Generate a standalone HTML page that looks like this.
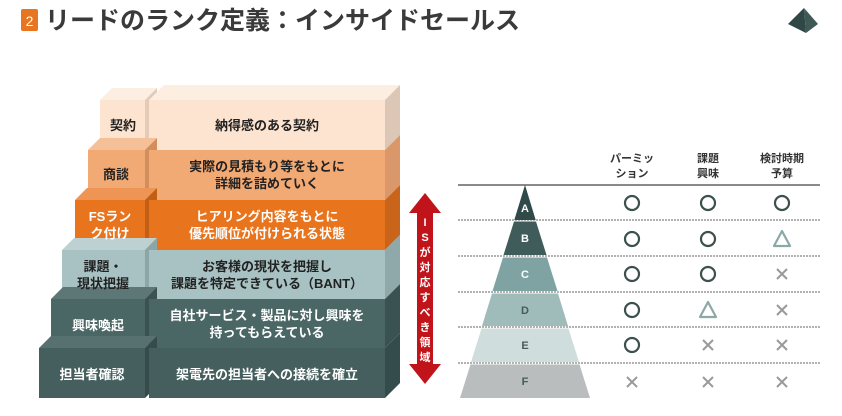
<!DOCTYPE html>
<html><head><meta charset="utf-8"><style>
html,body{margin:0;padding:0;background:#fff;}
svg{display:block;font-family:"Liberation Sans","Noto Sans CJK JP",sans-serif;}
</style></head><body>
<svg width="842" height="416" viewBox="0 0 842 416" xmlns="http://www.w3.org/2000/svg">
<!-- header -->
<rect x="21" y="9" width="17" height="22" rx="2" fill="#e8751f"/>
<text x="29.5" y="26" font-size="14" fill="#fff" text-anchor="middle">2</text>
<text x="45" y="29" font-size="25" font-weight="bold" fill="#3a3a3a">リードのランク定義：インサイドセールス</text>
<polygon points="804,8 788,24 806,33" fill="#2f4745"/>
<polygon points="804,8 818,24 806,33" fill="#3f5957"/>

<g id="rows">
<polygon points="100,100 145,100 157,88 112,88" fill="#fdeee2"/>
<polygon points="145,100 157,88 157,138 145,150" fill="#e3cbb8"/>
<rect x="100" y="100" width="45" height="50" fill="#fce4d0"/>
<polygon points="149,100 385,100 400,85 164,85" fill="#fdeee2"/>
<polygon points="385,100 400,85 400,135 385,150" fill="#dcc6b5"/>
<rect x="149" y="100" width="236" height="50" fill="#fce4d0"/>
<polygon points="88,150 145,150 157,138 100,138" fill="#f5bf97"/>
<polygon points="145,150 157,138 157,188 145,200" fill="#d38e5d"/>
<rect x="88" y="150" width="57" height="50" fill="#f2aa75"/>
<polygon points="385,150 400,135 400,185 385,200" fill="#d9976a"/>
<rect x="149" y="150" width="236" height="50" fill="#f2aa75"/>
<polygon points="75,200 145,200 157,188 87,188" fill="#ee9455"/>
<polygon points="145,200 157,188 157,238 145,250" fill="#c25f15"/>
<rect x="75" y="200" width="70" height="50" fill="#e8741d"/>
<polygon points="385,200 400,185 400,235 385,250" fill="#c9651a"/>
<rect x="149" y="200" width="236" height="50" fill="#e8741d"/>
<polygon points="62,250 145,250 157,238 74,238" fill="#bdd1d2"/>
<polygon points="145,250 157,238 157,287 145,299" fill="#8ca6a7"/>
<rect x="62" y="250" width="83" height="49" fill="#a8c2c3"/>
<polygon points="385,250 400,235 400,284 385,299" fill="#8fa9aa"/>
<rect x="149" y="250" width="236" height="49" fill="#a8c2c3"/>
<polygon points="51,299 145,299 157,287 63,287" fill="#5c7776"/>
<polygon points="145,299 157,287 157,336 145,348" fill="#3a5352"/>
<rect x="51" y="299" width="94" height="49" fill="#4a6665"/>
<polygon points="385,299 400,284 400,333 385,348" fill="#3a5352"/>
<rect x="149" y="299" width="236" height="49" fill="#4a6665"/>
<polygon points="39,348 145,348 157,336 51,336" fill="#567170"/>
<polygon points="145,348 157,336 157,386 145,398" fill="#344c4b"/>
<rect x="39" y="348" width="106" height="50" fill="#445f5e"/>
<polygon points="385,348 400,333 400,383 385,398" fill="#344c4b"/>
<rect x="149" y="348" width="236" height="50" fill="#445f5e"/>
</g>

<g font-size="13" font-weight="bold" text-anchor="middle">
<text x="123" y="130" fill="#222">契約</text>
<text x="116" y="179" fill="#222">商談</text>
<text x="110" y="221" fill="#fff">FSラン</text>
<text x="110" y="238" fill="#fff">ク付け</text>
<text x="103" y="271" fill="#222">課題・</text>
<text x="103" y="288" fill="#222">現状把握</text>
<text x="98" y="330" fill="#fff">興味喚起</text>
<text x="92" y="379" fill="#fff">担当者確認</text>

<text x="267" y="130" fill="#222">納得感のある契約</text>
<text x="267" y="171" fill="#222">実際の見積もり等をもとに</text>
<text x="267" y="188" fill="#222">詳細を詰めていく</text>
<text x="267" y="221" fill="#fff">ヒアリング内容をもとに</text>
<text x="267" y="238" fill="#fff">優先順位が付けられる状態</text>
<text x="267" y="271" fill="#222">お客様の現状を把握し</text>
<text x="267" y="288" fill="#222">課題を特定できている（BANT）</text>
<text x="267" y="320" fill="#fff">自社サービス・製品に対し興味を</text>
<text x="267" y="337" fill="#fff">持ってもらえている</text>
<text x="267" y="379" fill="#fff">架電先の担当者への接続を確立</text>
</g>

<polygon points="425,193 441,213 433,213 433,364 441,364 425,384 409,364 417,364 417,213 409,213" fill="#c0141a"/>
<g font-size="11" font-weight="bold" fill="#fff" text-anchor="middle">
<text x="425" y="226">I</text><text x="425" y="241">S</text><text x="425" y="256">が</text><text x="425" y="271">対</text><text x="425" y="286">応</text><text x="425" y="301">す</text><text x="425" y="316">べ</text><text x="425" y="331">き</text><text x="425" y="346">領</text><text x="425" y="361">域</text>
</g>

<g font-size="11" font-weight="bold" fill="#333" text-anchor="middle">
<text x="632" y="162">パーミッ</text><text x="632" y="177">ション</text>
<text x="708" y="162">課題</text><text x="708" y="177">興味</text>
<text x="782" y="162">検討時期</text><text x="782" y="177">予算</text>
</g>
<line x1="458" y1="185" x2="820" y2="185" stroke="#444" stroke-width="1.2"/>
<g stroke="#666" stroke-width="1" stroke-dasharray="2,1">
<line x1="458" y1="220" x2="820" y2="220"/>
<line x1="458" y1="256" x2="820" y2="256"/>
<line x1="458" y1="292" x2="820" y2="292"/>
<line x1="458" y1="327" x2="820" y2="327"/>
<line x1="458" y1="363" x2="820" y2="363"/>
</g>
<polygon points="525,185 535.7,220 514.3,220" fill="#2f4a48"/>
<polygon points="514,221.5 536,221.5 546.5,255 503.5,255" fill="#3f5c5a"/>
<polygon points="503,257.5 547,257.5 557.5,291 492.5,291" fill="#7fa3a3"/>
<polygon points="492,293.5 558,293.5 568,326 482,326" fill="#9fbcbb"/>
<polygon points="481.5,328.5 568.5,328.5 579,362 471,362" fill="#cfdedd"/>
<polygon points="470.5,364.5 579.5,364.5 590,398 460,398" fill="#b9bdbd"/>
<g font-size="11" font-weight="bold" text-anchor="middle">
<text x="525" y="212" fill="#fff">A</text>
<text x="525" y="242" fill="#fff">B</text>
<text x="525" y="278" fill="#fff">C</text>
<text x="525" y="314" fill="#4a5a5a">D</text>
<text x="525" y="349" fill="#4a5a5a">E</text>
<text x="525" y="385" fill="#4a5a5a">F</text>
</g>
<g fill="none" stroke="#3d504e" stroke-width="2.2">
<circle cx="632" cy="203" r="7"/><circle cx="708" cy="203" r="7"/><circle cx="782" cy="203" r="7"/>
<circle cx="632" cy="239" r="7"/><circle cx="708" cy="239" r="7"/>
<circle cx="632" cy="274" r="7"/><circle cx="708" cy="274" r="7"/>
<circle cx="632" cy="310" r="7"/>
<circle cx="632" cy="345" r="7"/>
</g>
<g fill="none" stroke="#8aa9a8" stroke-width="2.2" stroke-linejoin="round">
<polygon points="782,231 790,246 774,246"/>
<polygon points="708,302 716,317 700,317"/>
</g>
<g stroke="#999" stroke-width="2">
<path d="M777,269 l10,10 M787,269 l-10,10"/>
<path d="M777,305 l10,10 M787,305 l-10,10"/>
<path d="M703,340 l10,10 M713,340 l-10,10"/>
<path d="M777,340 l10,10 M787,340 l-10,10"/>
<path d="M627,377 l10,10 M637,377 l-10,10"/>
<path d="M703,377 l10,10 M713,377 l-10,10"/>
<path d="M777,377 l10,10 M787,377 l-10,10"/>
</g>
</svg>
</body></html>
